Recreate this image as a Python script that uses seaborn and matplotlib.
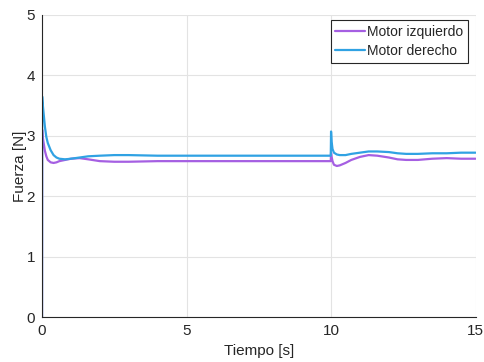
import matplotlib
matplotlib.use("Agg")
import matplotlib.pyplot as plt
import seaborn as sns
import pandas as pd

# Time samples (s)
t_izq = [0.0, 0.005, 0.02, 0.05, 0.1, 0.15, 0.2, 0.3, 0.4, 0.5, 0.6, 0.8, 1.0, 1.3, 1.6, 2.0,
         2.5, 3.0, 4.0, 5.0, 6.0, 7.0, 8.0, 9.0, 9.99, 10.0, 10.02, 10.05, 10.1, 10.2, 10.3,
         10.5, 10.7, 11.0, 11.3, 11.6, 12.0, 12.3, 12.6, 13.0, 13.5, 14.0, 14.5, 15.0]
f_izq = [0.0, 3.1, 3.0, 2.9, 2.75, 2.66, 2.6, 2.56, 2.55, 2.56, 2.58, 2.6, 2.62, 2.63, 2.61, 2.58,
         2.57, 2.57, 2.58, 2.58, 2.58, 2.58, 2.58, 2.58, 2.58, 2.72, 2.65, 2.58, 2.52, 2.5, 2.51,
         2.55, 2.6, 2.65, 2.68, 2.67, 2.64, 2.61, 2.6, 2.6, 2.62, 2.63, 2.62, 2.62]

t_der = [0.0, 0.005, 0.02, 0.05, 0.1, 0.15, 0.2, 0.3, 0.4, 0.5, 0.6, 0.8, 1.0, 1.3, 1.6, 2.0,
         2.5, 3.0, 4.0, 5.0, 6.0, 7.0, 8.0, 9.0, 9.99, 10.0, 10.02, 10.05, 10.1, 10.2, 10.3,
         10.5, 10.7, 11.0, 11.3, 11.6, 12.0, 12.3, 12.6, 13.0, 13.5, 14.0, 14.5, 15.0]
f_der = [0.0, 3.65, 3.55, 3.4, 3.15, 2.98, 2.88, 2.76, 2.68, 2.64, 2.62, 2.61, 2.62, 2.64, 2.66, 2.67,
         2.68, 2.68, 2.67, 2.67, 2.67, 2.67, 2.67, 2.67, 2.67, 3.07, 2.9, 2.78, 2.72, 2.69, 2.68,
         2.68, 2.7, 2.72, 2.74, 2.74, 2.73, 2.71, 2.7, 2.7, 2.71, 2.71, 2.72, 2.72]

labels = ["Motor izquierdo", "Motor derecho"]

df = pd.concat([
    pd.DataFrame({"Tiempo": t_izq, "Fuerza": f_izq, "Serie": labels[0]}),
    pd.DataFrame({"Tiempo": t_der, "Fuerza": f_der, "Serie": labels[1]}),
])

sns.set_theme(style="white")
plt.rcParams["font.family"] = ["Liberation Sans", "DejaVu Sans"]

fig = plt.figure(figsize=(4.85, 3.62), dpi=100)
ax = fig.add_axes([0.0866, 0.124, 0.894, 0.835])

sns.lineplot(data=df, x="Tiempo", y="Fuerza", hue="Serie", sort=False,
             palette={labels[0]: "#A55FE2", labels[1]: "#30A2E3"},
             linewidth=1.6, ax=ax, estimator=None)

ax.set_xlim(0, 15)
ax.set_ylim(0, 5)
ax.set_xticks([0, 5, 10, 15])
ax.set_yticks([0, 1, 2, 3, 4, 5])
ax.grid(True, color="#E3E3E3", linewidth=0.8)
ax.set_axisbelow(True)
for s in ["top", "right"]:
    ax.spines[s].set_visible(False)
for s in ["left", "bottom"]:
    ax.spines[s].set_color("#262626")
    ax.spines[s].set_linewidth(0.8)
ax.tick_params(axis="both", direction="in", length=3, width=0.8, colors="#262626",
               labelsize=11, labelcolor="#262626", pad=5)
ax.set_xlabel("Tiempo [s]", fontsize=11, color="#262626", labelpad=4)
ax.set_ylabel("Fuerza [N]", fontsize=11, color="#262626", labelpad=0)

leg = ax.legend(loc="upper right", bbox_to_anchor=(0.9816, 0.983), fontsize=10, frameon=True,
                fancybox=False, edgecolor="#262626", framealpha=1, borderpad=0.35,
                handlelength=2.1, handletextpad=0.15, labelspacing=0.38, borderaxespad=0.0)
leg.get_frame().set_linewidth(0.8)

fig.savefig("out.png", dpi=100)
